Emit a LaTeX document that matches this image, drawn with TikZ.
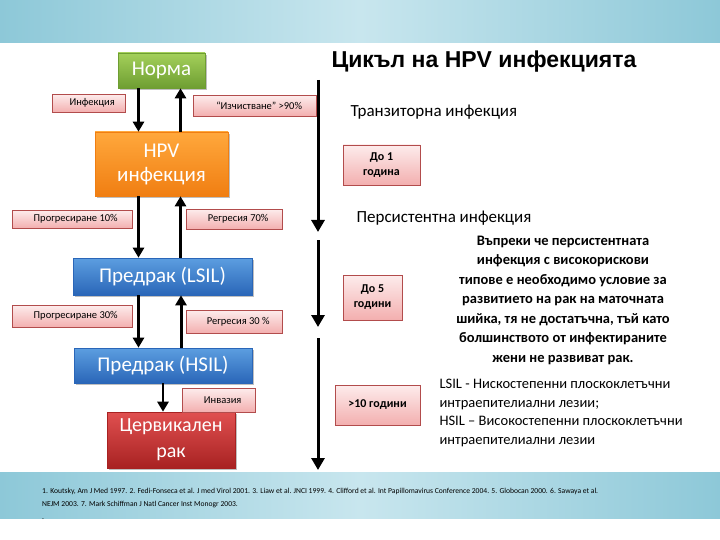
\documentclass[tikz,border=0pt]{standalone}
\usepackage{fontspec}
\setmainfont{Carlito}
\newfontfamily\titlef{Liberation Sans}
\usetikzlibrary{arrows.meta,shadows}
\definecolor{bandA}{HTML}{8DC8D8}
\definecolor{bandB}{HTML}{C8E6EE}
\definecolor{grT}{HTML}{A4D05A}\definecolor{grB}{HTML}{6E9E32}
\definecolor{orT}{HTML}{FFA83C}\definecolor{orB}{HTML}{F07E12}
\definecolor{blT}{HTML}{5C9EE0}\definecolor{blB}{HTML}{2A66B8}
\definecolor{rdT}{HTML}{E05050}\definecolor{rdB}{HTML}{A82222}
\definecolor{pkT}{HTML}{FDECEC}\definecolor{pkB}{HTML}{F3AFAF}
\begin{document}
\begin{tikzpicture}[x=1pt,y=-1pt,
 box/.style={draw=#1,line width=0.6pt,text=white,align=center,inner sep=0,font=\fontsize{21}{24}\selectfont,drop shadow},
 lbl/.style={draw=red!40!gray,top color=pkT,bottom color=pkB,inner sep=0,font=\fontsize{10.5}{12}\selectfont,anchor=north west,align=left},
 tlbl/.style={draw=red!40!gray,top color=pkT,bottom color=pkB,inner sep=0,font=\bfseries\fontsize{12}{15}\selectfont,align=center},
 arr/.style={line width=3pt,-{Triangle[width=11pt,length=10pt]}},
 tarr/.style={line width=3pt,-{Triangle[width=13pt,length=12pt]}}]
\useasboundingbox (0,0) rectangle (720,540);
\fill[left color=bandA,right color=bandA,middle color=bandB] (0,0) rectangle (720,43);
\fill[left color=bandA,right color=bandA,middle color=bandB] (0,472) rectangle (720,518);
% boxes
\node[box=grB,top color=grT,bottom color=grB,minimum width=87,minimum height=35] (norma) at (161.5,70.5) {Норма};
\node[box=orB,top color=orT,bottom color=orB,minimum width=133,minimum height=64] (hpv) at (161.5,164) {HPV\\инфекция};
\node[box=blB,top color=blT,bottom color=blB,minimum width=179,minimum height=37] (lsil) at (162.5,276.5) {Предрак (LSIL)};
\node[box=blB,top color=blT,bottom color=blB,minimum width=178,minimum height=35] (hsil) at (163,365.5) {Предрак (HSIL)};
\node[box=rdB,top color=rdT,bottom color=rdB,minimum width=128,minimum height=56,font=\fontsize{20}{26}\selectfont] (rak) at (171,440) {Цервикален\\рак};
% labels
\node[lbl,minimum width=73,minimum height=18] (l1) at (52,94) {\hspace{7pt}Инфекция};
\node[lbl,minimum width=123,minimum height=21] (l2) at (193,95) {\hspace{9pt}“Изчистване” >90\%};
\node[lbl,minimum width=120,minimum height=18] (l3) at (12,210) {\hspace{7pt}Прогресиране 10\%};
\node[lbl,minimum width=96,minimum height=20] (l4) at (186,209) {\hspace{8pt}Регресия 70\%};
\node[lbl,minimum width=120,minimum height=22] (l5) at (12,305) {\hspace{7pt}Прогресиране 30\%};
\node[lbl,minimum width=96,minimum height=23] (l6) at (186,310) {\hspace{8pt}Регресия 30 \%};
\node[lbl,minimum width=73,minimum height=24] (l7) at (182,388) {\hspace{8pt}Инвазия};
% arrows
\coordinate (a1) at ([xshift=-23]norma.south);
\draw[arr] (a1) -- (a1|-hpv.north);
\coordinate (a2) at ([xshift=19]hpv.north);
\draw[arr] (a2) -- (a2|-norma.south);
\coordinate (a3) at ([xshift=-23]hpv.south);
\draw[arr] (a3) -- (a3|-lsil.north);
\coordinate (a4) at ([xshift=18]lsil.north);
\draw[arr] (a4) -- (a4|-hpv.south);
\coordinate (a5) at ([xshift=-24]lsil.south);
\draw[arr] (a5) -- (a5|-hsil.north);
\coordinate (a6) at ([xshift=18]hsil.north);
\draw[arr] (a6) -- (a6|-lsil.south);
\coordinate (a7) at (163,383);
\draw[arr,line width=2.5pt] (a7) -- (a7|-rak.north);
% timeline
\coordinate (t0) at (318,80); \coordinate (t1) at (318,232);
\coordinate (t2) at (318,240); \coordinate (t3) at (318,327);
\coordinate (t4) at (318,338); \coordinate (t5) at (318,470);
\draw[tarr] (t0) -- (t1);
\draw[tarr] (t2) -- (t3);
\draw[tarr] (t4) -- (t5);
% right texts
\node[anchor=west,font=\titlef\bfseries\fontsize{23}{26}\selectfont] (title) at (328,62) {Цикъл на HPV инфекцията};
\node[anchor=west,font=\fontsize{17}{20}\selectfont] (tr) at (347,112) {Транзиторна инфекция};
\node[tlbl,minimum width=77,minimum height=40] (d1) at (381.5,165) {До 1\\година};
\node[anchor=west,font=\fontsize{17}{20}\selectfont] (pe) at (353,218) {Персистентна инфекция};
\node[tlbl,minimum width=59,minimum height=45] (d5) at (372.5,297.5) {До 5\\години};
\node[tlbl,minimum width=85,minimum height=40] (d10) at (377.5,405) {>10 години};
\node[align=center,font=\bfseries\fontsize{14.5}{19.5}\selectfont] (par) at (563,300) {Въпреки че персистентната\\инфекция с високорискови\\типове е необходимо условие за\\развитието на рак на маточната\\шийка, тя не достатъчна, тъй като\\болшинството от инфектираните\\жени не развиват рак.};
\begin{scope}
\clip (430,370) rectangle (720,470);
\node[anchor=north west,align=left,font=\fontsize{14.5}{18.5}\selectfont] (leg) at (436,376) {LSIL - Нискостепенни плоскоклетъчни\\интраепителиални лезии;\\HSIL – Високостепенни плоскоклетъчни\\интраепителиални лезии};
\end{scope}
\node[anchor=north west,align=left,font=\fontsize{7.6}{13}\selectfont,inner sep=0] (fn) at (42,488) {1. Koutsky, Am J Med 1997. 2. Fedi-Fonseca et al. J med Virol 2001. 3. Liaw et al. JNCI 1999. 4. Clifford et al. Int Papillomavirus Conference 2004. 5. Globocan 2000. 6. Sawaya et al.\\NEJM 2003. 7. Mark Schiffman J Natl Cancer Inst Monogr 2003.\\.};
\end{tikzpicture}
\end{document}
